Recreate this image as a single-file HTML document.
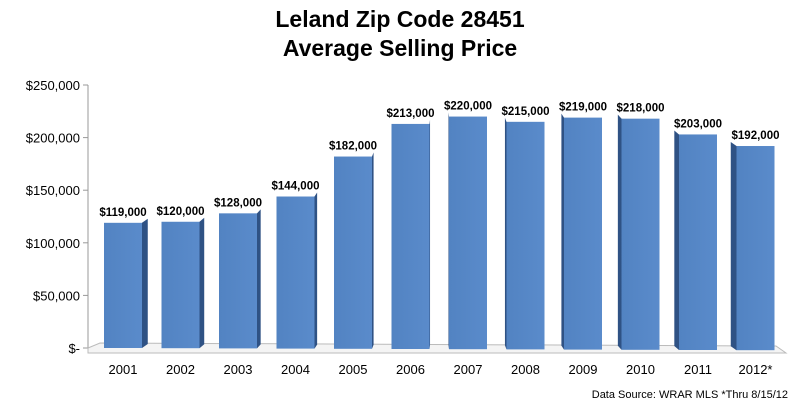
<!DOCTYPE html>
<html><head><meta charset="utf-8"><style>
body{margin:0;background:#fff;}
svg{display:block;font-family:"Liberation Sans",sans-serif;}
</style></head><body>
<svg width="800" height="411" viewBox="0 0 800 411">
<defs>
<linearGradient id="fg" x1="0" x2="1" y1="0" y2="0"><stop offset="0" stop-color="#5283c2"/><stop offset="1" stop-color="#5a8bcb"/></linearGradient>
</defs>
<text x="400" y="27" text-anchor="middle" font-size="23" font-weight="bold">Leland Zip Code 28451</text>
<text x="400" y="56" text-anchor="middle" font-size="23" font-weight="bold">Average Selling Price</text>
<g id="axes"></g>
<g id="bars"></g>
<text x="788" y="398" text-anchor="end" font-size="11">Data Source: WRAR MLS  *Thru 8/15/12</text>
</svg>
<script>
const categories=["2001","2002","2003","2004","2005","2006","2007","2008","2009","2010","2011","2012*"];
const values=[119000,120000,128000,144000,182000,213000,220000,215000,219000,218000,203000,192000];
const tickValues=[0,50000,100000,150000,200000,250000];
const tickLabels=["$-","$50,000","$100,000","$150,000","$200,000","$250,000"];
const NS="http://www.w3.org/2000/svg";
const y0=348,yTop=85,vmax=250000;
function y(v){return y0-(v/vmax)*(y0-yTop);}
function xc(i){return 123+i*57.5;}
function mk(t,a,p){const e=document.createElementNS(NS,t);for(const k in a)e.setAttribute(k,a[k]);p.appendChild(e);return e;}
const ax=document.getElementById('axes'),bg=document.getElementById('bars');
let l=mk('line',{x1:88,y1:yTop,x2:88,y2:y0,stroke:'#999'},ax);


tickValues.forEach((v,i)=>{
 const tk=mk('line',{x1:83,x2:88,y1:y(v),y2:y(v),stroke:'#999'},ax);
 
 
 const t=mk('text',{x:80,y:y(v)+5,'text-anchor':'end','font-size':13},ax);
 t.textContent=tickLabels[i];
 
 
});
const fl=mk('polygon',{points:'88,348 100,343 776,346 786,353 88,353',fill:'#f4f4f4',stroke:'#bbb'},ax);


categories.forEach((c,i)=>{
 const cx=xc(i),w=38,bx=cx-w/2,top=y(values[i]);
 const side=(440-cx)/55;
 const base=y0+i*0.2;
 const g=mk('g',{},bg);
 
 
 const sx=side>=0?bx+w:bx;
 mk('polygon',{points:`${sx},${top} ${sx+side},${top-4} ${sx+side},${base-4} ${sx},${base}`,fill:'#2f5284'},g);
 mk('rect',{x:bx,y:top,width:w,height:base-top,fill:'url(#fg)'},g);
 const lb=mk('text',{x:cx,y:top-7,'text-anchor':'middle','font-size':11.5,'font-weight':'bold'},bg);
 lb.textContent='$'+values[i].toLocaleString('en-US');
 
 
 const xl=mk('text',{x:cx,y:374,'text-anchor':'middle','font-size':13},bg);
 xl.textContent=c;
 
 
});
</script>
</body></html>
